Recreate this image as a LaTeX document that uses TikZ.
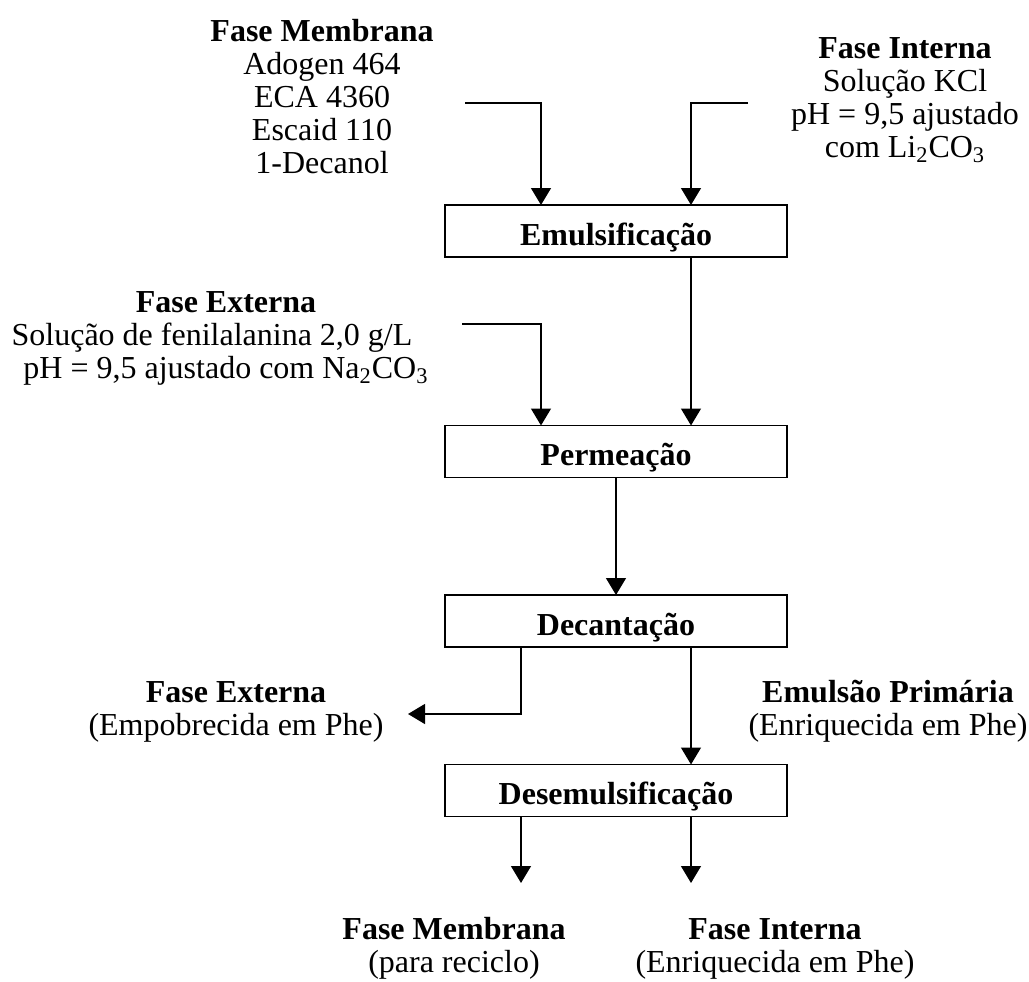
\documentclass[tikz,border=0pt]{standalone}
\usepackage{fontspec}
\setmainfont{Liberation Serif}
\usetikzlibrary{arrows.meta}

\begin{document}
\begin{tikzpicture}[x=0.5pt,y=-0.5pt,
  every node/.style={font=\fontsize{16}{16.5}\selectfont, inner sep=0pt, outer sep=0pt},
  stage/.style={draw, line width=0.9pt, minimum width=171pt, minimum height=26pt,
    text height=15pt, text depth=1pt, font=\fontsize{16}{16.5}\selectfont\bfseries},
  flow/.style={line width=0.65pt, -{Triangle[width=10pt,length=8.5pt]}},
  caption/.style={align=center, anchor=base}
]
\useasboundingbox (0,0) rectangle (1029,981);

% process stages
\node[stage] (emul)  at (616,231)   {Emulsificação};
\node[stage] (perm)  at (616,451.5) {Permeação};
\node[stage] (dec)   at (616,621)   {Decantação};
\node[stage] (desem) at (616,790.5) {Desemulsificação};

% streams (anchored at the baseline of the last line)
\node[caption] (memb) at (322,173) {\textbf{Fase Membrana}\\Adogen 464\\ECA 4360\\Escaid 110\\1-Decanol};
\node[caption] (intin) at (905,157) {\textbf{Fase Interna}\\Solução KCl\\pH = 9,5 ajustado\\com Li\textsubscript{2}CO\textsubscript{3}};
\node[caption] (extin) at (226,378) {\textbf{Fase Externa}\\Solução de fenilalanina 2,0 g/L\kern14pt\\pH = 9,5 ajustado com Na\textsubscript{2}CO\textsubscript{3}};
\node[caption] (extout) at (236,735) {\textbf{Fase Externa}\\(Empobrecida em Phe)};
\node[caption] (prim) at (888,735) {\textbf{Emulsão Primária}\\(Enriquecida em Phe)};
\node[caption] (membout) at (454,972) {\textbf{Fase Membrana}\\(para reciclo)};
\node[caption] (intout) at (775,972) {\textbf{Fase Interna}\\(Enriquecida em Phe)};

% connector corners
\coordinate (mA) at (465,103);
\coordinate (mB) at (541,103);
\coordinate (iA) at (748,103);
\coordinate (iB) at (691,103);
\coordinate (eA) at (462,324);
\coordinate (eB) at (541,324);
\coordinate (dL) at (521,714);
\coordinate (dT) at (408,714);
\coordinate (oL) at (521,883);
\coordinate (oR) at (691,883);

% feeds into emulsification
\draw[flow] (mA) -- (mB) -- (mB |- emul.north);
\draw[flow] (iA) -- (iB) -- (iB |- emul.north);
% into permeation
\draw[flow] (iB |- emul.south) -- (iB |- perm.north);
\draw[flow] (eA) -- (eB) -- (eB |- perm.north);
% permeation to settling
\draw[flow] (perm) -- (dec);
% settling outputs
\draw[flow] (dL |- dec.south) -- (dL) -- (dT);
\draw[flow] (iB |- dec.south) -- (iB |- desem.north);
% demulsification outputs
\draw[flow] (oL |- desem.south) -- (oL);
\draw[flow] (oR |- desem.south) -- (oR);
\end{tikzpicture}
\end{document}
